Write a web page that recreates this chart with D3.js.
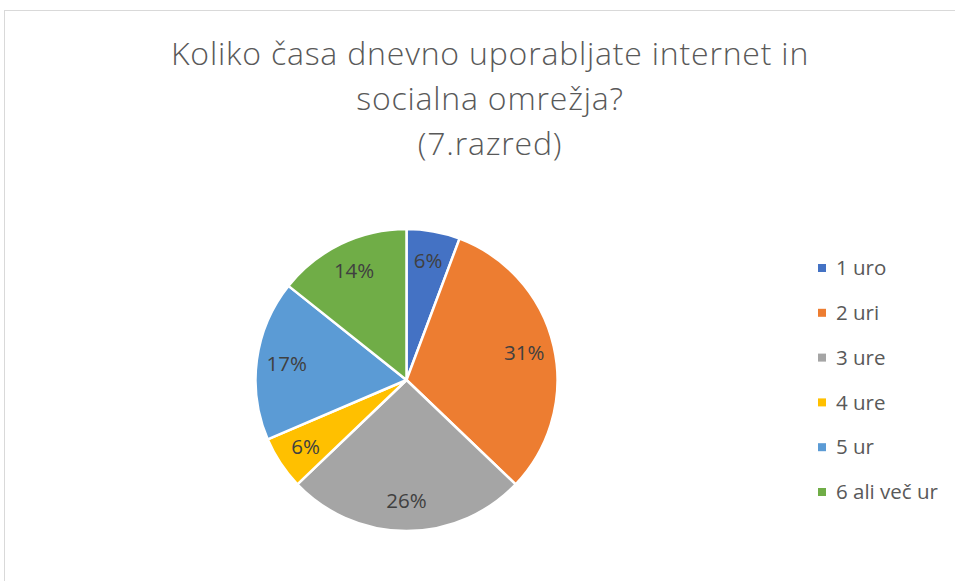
<!DOCTYPE html>
<html>
<head>
<meta charset="utf-8">
<script src="https://cdn.jsdelivr.net/npm/d3@7"></script>
<style>
  html, body { margin: 0; padding: 0; background: #fff; }
  svg { display: block; }
</style>
</head>
<body>
<svg id="chart" width="955" height="581"></svg>
<script>
// Survey answers: number of pupils per daily usage bracket
const categories = ["1 uro", "2 uri", "3 ure", "4 ure", "5 ur", "6 ali več ur"];
const counts = [2, 11, 9, 2, 6, 5];
const colors = ["#4472C4", "#ED7D31", "#A5A5A5", "#FFC000", "#5B9BD5", "#70AD47"];
const titleLines = ["Koliko časa dnevno uporabljate internet in", "socialna omrežja?", "(7.razred)"];

const FONT = "'Open Sans', 'Liberation Sans', sans-serif";
const svg = d3.select("#chart");

// chart area frame (continues past the right and bottom edges)
svg.append("rect")
  .attr("x", 4.5).attr("y", 10.5)
  .attr("width", 1000).attr("height", 1000)
  .attr("fill", "#fff")
  .attr("stroke", "#d9d9d9").attr("stroke-width", 1);

// title
const title = svg.append("g");
titleLines.forEach((t, i) => {
  title.append("text")
    .attr("x", 490).attr("y", 65 + i * 45)
    .attr("text-anchor", "middle")
    .attr("font-family", FONT)
    .attr("font-weight", 300)
    .attr("font-size", 32)
    .attr("letter-spacing", 0.8)
    .attr("fill", "#595959")
    .text(t);
});

// pie
const cx = 406.5, cy = 380, R = 151;
const total = d3.sum(counts);
const pie = d3.pie().sort(null).value(d => d)(counts);
const arc = d3.arc().innerRadius(0).outerRadius(R);
const labelArc = d3.arc().innerRadius(R * 0.8).outerRadius(R * 0.8);
const fmt = d3.format(".0%");

const g = svg.append("g").attr("transform", `translate(${cx},${cy})`);
g.selectAll("path.slice").data(pie).join("path")
  .attr("class", "slice")
  .attr("d", arc)
  .attr("fill", (d, i) => colors[i])
  .attr("stroke", "#fff")
  .attr("stroke-width", 2.5)
  .attr("stroke-linejoin", "round");

g.selectAll("text.lbl").data(pie).join("text")
  .attr("class", "lbl")
  .attr("transform", d => `translate(${labelArc.centroid(d)})`)
  .attr("text-anchor", "middle")
  .attr("dy", "0.35em")
  .attr("font-family", FONT)
  .attr("font-size", 20.5)
  .attr("fill", "#404040")
  .text(d => fmt(d.data / total));

// legend
const legend = svg.append("g");
const ly = d3.scalePoint().domain(categories).range([268, 492]);
categories.forEach((c, i) => {
  legend.append("rect")
    .attr("x", 818).attr("y", ly(c) - 4)
    .attr("width", 8).attr("height", 8)
    .attr("fill", colors[i]);
  legend.append("text")
    .attr("x", 836).attr("y", ly(c))
    .attr("dy", "0.35em")
    .attr("font-family", FONT)
    .attr("font-size", 20.5)
    .attr("fill", "#595959")
    .text(c);
});
</script>
</body>
</html>
